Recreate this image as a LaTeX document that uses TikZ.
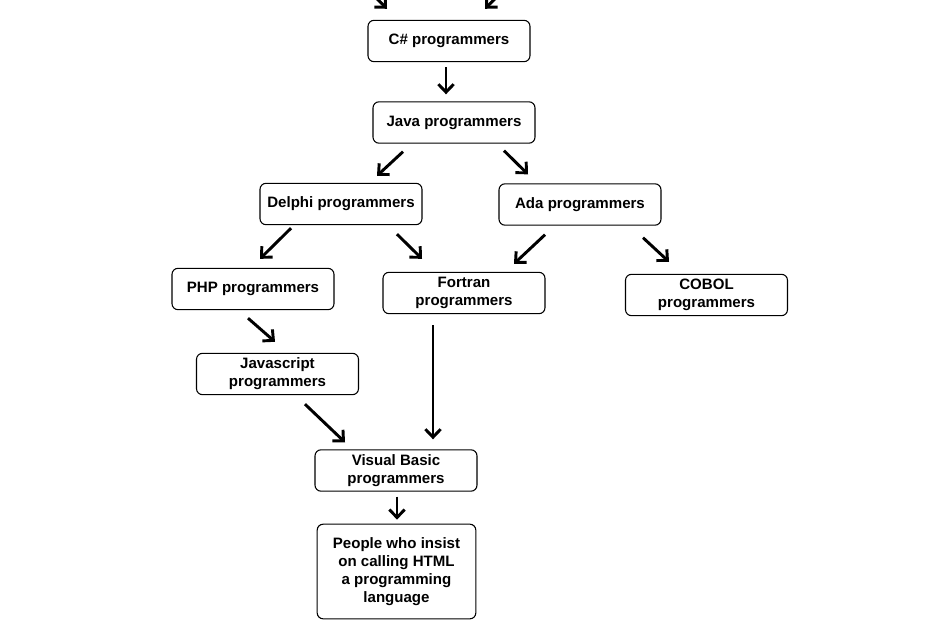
\documentclass[tikz,border=0pt]{standalone}
\usepackage{fontspec}
\setmainfont{Liberation Sans}
\usetikzlibrary{arrows.meta}

\begin{document}
\begin{tikzpicture}[x=0.75pt, y=-0.75pt,
  box/.style={draw, line width=0.8pt, rounded corners=4.5pt, align=center,
    minimum width=121.5pt, minimum height=31pt, inner sep=2pt,
    font=\fontsize{11.3}{13.6}\selectfont\bfseries},
  arr/.style={line width=2.2pt, -{Straight Barb[length=6pt, width=11.5pt, line width=2.2pt]}}]
  \useasboundingbox (0,0) rectangle (938,624);

  \node[box] (cs) at (449, 41) {C\# programmers};
  \node[box] (java) at (454, 122.5) {Java programmers};
  \node[box] (delphi) at (341, 204) {Delphi programmers};
  \node[box] (ada) at (580, 204.5) {Ada programmers};
  \node[box] (php) at (253, 289) {PHP programmers};
  \node[box] (fortran) at (464, 293) {Fortran\\programmers};
  \node[box] (cobol) at (706.5, 295) {COBOL\\programmers};
  \node[box] (js) at (277.5, 374) {Javascript\\programmers};
  \node[box] (vb) at (396, 470.5) {Visual Basic\\programmers};
  \node[box, minimum width=119pt, minimum height=71pt] (html) at (396.5, 571.5)
    {People who insist\\on calling HTML\\a programming\\language};

  % arrows coming in from above
  \draw[arr] ([shift={(-76,-25)}]cs.north) -- ([shift={(-62,-11)}]cs.north);
  \draw[arr] ([shift={(50,-25)}]cs.north) -- ([shift={(36,-11)}]cs.north);

  \draw[arr] ([shift={(-3,5)}]cs.south) -- ([shift={(-8,-7)}]java.north);
  \draw[arr] ([shift={(-51,8)}]java.south) -- ([shift={(36,-7)}]delphi.north);
  \draw[arr] ([shift={(50,7)}]java.south) -- ([shift={(-52,-9)}]ada.north);
  \draw[arr] ([shift={(-50,3)}]delphi.south) -- ([shift={(7,-9)}]php.north);
  \draw[arr] ([shift={(56,9)}]delphi.south) -- ([shift={(-42,-13)}]fortran.north);
  \draw[arr] ([shift={(-35,9)}]ada.south) -- ([shift={(50,-8)}]fortran.north);
  \draw[arr] ([shift={(63,12)}]ada.south) -- ([shift={(-37.5,-12)}]cobol.north);
  \draw[arr] ([shift={(-5,8)}]php.south) -- ([shift={(-2.5,-11)}]js.north);
  \draw[arr] ([shift={(27.5,9)}]js.south) -- ([shift={(-51,-7)}]vb.north);
  \draw[arr] ([shift={(-31,11)}]fortran.south) -- ([shift={(37,-10)}]vb.north);
  \draw[arr] ([shift={(1,5)}]vb.south) -- ([shift={(0.5,-4)}]html.north);
\end{tikzpicture}
\end{document}
